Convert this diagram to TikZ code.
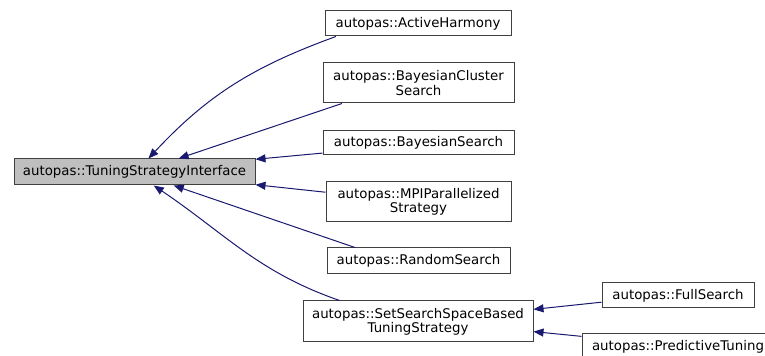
\documentclass[tikz,border=0pt]{standalone}
\usepackage{fontspec}
\setmainfont{DejaVu Sans}
\usepackage{tikz}
\usetikzlibrary{arrows.meta}
\tikzstyle{classDiagram} = [x = 0.75pt, y = -0.75pt]
\definecolor{edgeColor}{RGB}{25,25,112}
\definecolor{borderColor}{RGB}{64,64,64}
\definecolor{baseFill}{RGB}{191,191,191}
\tikzstyle{classStyle} = [draw=borderColor, fill=white, line width=0.75pt, inner sep=0pt, align=center, font=\fontsize{10}{10.7}\selectfont]
\tikzstyle{baseClassStyle} = [classStyle, fill=baseFill]
\tikzstyle{inheritLine} = [draw=edgeColor, line width=0.75pt, -{Triangle[length=7.5pt, width=6pt]}]
\newcommand{\classBox}[5]{\node [classStyle, minimum width = #3 * 0.75pt, minimum height = #4 * 0.75pt] (#1) at (#2) {#5};}

\begin{document}
\begin{tikzpicture}[classDiagram]
  \useasboundingbox (0,0) rectangle (765,356);
  \node [baseClassStyle, minimum width = 241 * 0.75pt, minimum height = 26 * 0.75pt] (base) at (134.5,172) {autopas::TuningStrategyInterface};

  \classBox{harmony}{418,23.5}{186}{25}{autopas::ActiveHarmony}
  \classBox{cluster}{418.5,83}{191}{40}{autopas::BayesianCluster\\Search}
  \classBox{bayes}{418.5,143}{191}{24}{autopas::BayesianSearch}
  \classBox{mpi}{418.5,202}{185}{40}{autopas::MPIParallelized\\Strategy}
  \classBox{random}{418.5,261}{183}{26}{autopas::RandomSearch}
  \classBox{setSearch}{418,321.5}{230}{41}{autopas::SetSearchSpaceBased\\TuningStrategy}
  \classBox{full}{678,295.5}{152}{25}{autopas::FullSearch}
  \classBox{predictive}{678,346.5}{192}{25}{autopas::PredictiveTuning}

  % inheritance edges, child -> parent
  \draw [inheritLine] (harmony.189) to [out=200, in=47] (base.44);
  \draw [inheritLine] (cluster.195) -- (base.17);
  \draw [inheritLine] (bayes.186) -- (base.6);
  \draw [inheritLine] (mpi.174) -- (base.-6);
  \draw [inheritLine] (random.168) -- (base.-19);
  \draw [inheritLine] (setSearch.165) to [out=161, in=-34] (base.-35);
  \draw [inheritLine] (full.185) -- (setSearch.6);
  \draw [inheritLine] (predictive.174) -- (setSearch.-5);
\end{tikzpicture}
\end{document}
